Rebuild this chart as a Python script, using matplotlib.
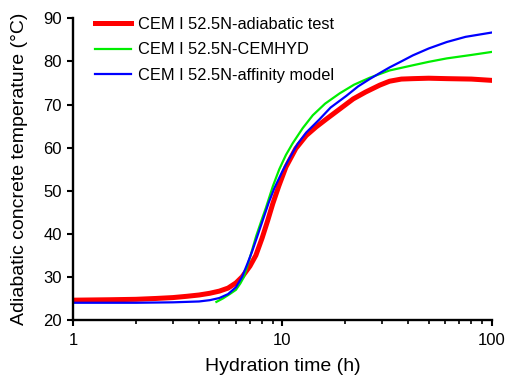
import matplotlib.pyplot as plt
import numpy as np

plt.rcParams['font.family'] = ['Liberation Sans', 'DejaVu Sans']

# hydration time (h) and temperature (C)
t_test = [1, 1.5, 2, 2.5, 3, 3.5, 4, 4.5, 5, 5.5, 6, 6.42, 7.0, 7.47, 8.0, 8.5, 9.0, 9.6, 10.4,
          11.6, 13, 14.5, 16.2, 18.5, 21.8, 25, 29.2, 32.5, 37, 42, 50, 61, 80, 100]
T_test = [24.6, 24.7, 24.8, 25.0, 25.2, 25.5, 25.8, 26.2, 26.7, 27.4, 28.6, 30.0, 32.5, 35.0, 39.0,
          43.0, 47.0, 51.0, 55.5, 59.8, 62.8, 64.8, 66.6, 68.7, 71.3, 72.9, 74.5, 75.4, 75.9, 76.0,
          76.1, 76.0, 75.9, 75.6]

t_cemhyd = [4.84, 5.2, 5.6, 6.0, 6.3, 6.55, 7.0, 7.5, 8.0, 8.34, 9.0, 9.67, 10.4, 11.2, 12.5, 13.97,
            16, 18.8, 22, 26.1, 32.5, 42, 50, 61, 80, 100]
T_cemhyd = [24.2, 25.0, 26.0, 27.0, 28.5, 30.0, 34.5, 39.5, 43.5, 46.0, 51.0, 55.0, 58.3, 61.0, 64.5,
            67.5, 70.2, 72.6, 74.6, 76.2, 77.9, 79.1, 79.9, 80.7, 81.5, 82.2]

t_affinity = [1, 2, 3, 4, 4.5, 5, 5.5, 6, 6.42, 6.8, 7.18, 7.6, 8.17, 8.6, 9.14, 10, 10.66, 11.8,
              13, 15, 17, 20.2, 23, 26.1, 29.2, 32.5, 37, 42, 50, 61, 75, 100]
T_affinity = [24.0, 24.0, 24.1, 24.3, 24.6, 25.1, 26.0, 27.6, 30.0, 33.0, 36.0, 39.5, 44.0, 47.2,
              50.5, 54.5, 57.0, 60.8, 63.5, 66.5, 69.3, 72.0, 74.2, 75.9, 77.3, 78.6, 80.0, 81.4,
              83.0, 84.5, 85.7, 86.7]

fig = plt.figure(figsize=(5.06, 3.83), dpi=100)
ax = fig.add_axes([0.1443, 0.1645, 0.8275, 0.7877])

ax.plot(t_test, T_test, color='#ff0000', lw=3.6, label='CEM I 52.5N-adiabatic test')
ax.plot(t_cemhyd, T_cemhyd, color='#00ee00', lw=1.6, label='CEM I 52.5N-CEMHYD')
ax.plot(t_affinity, T_affinity, color='#0000ff', lw=1.6, label='CEM I 52.5N-affinity model')

ax.set_xscale('log')
ax.set_xlim(1, 100)
ax.set_ylim(20, 90)
ax.set_xticks([1, 10, 100])
ax.set_xticklabels(['1', '10', '100'])
ax.set_yticks(np.arange(20, 91, 10))

ax.spines['top'].set_visible(False)
ax.spines['right'].set_visible(False)
ax.spines['left'].set_linewidth(1.7)
ax.spines['bottom'].set_linewidth(1.7)
ax.tick_params(which='major', direction='out', length=4.5, width=1.5, labelsize=12)
ax.tick_params(axis='x', which='major', pad=5)
ax.tick_params(which='minor', direction='out', length=2.8, width=1.2)
ax.tick_params(axis='y', which='minor', left=False)

ax.set_xlabel('Hydration time (h)', fontsize=14)
ax.set_ylabel('Adiabatic concrete temperature (\u00b0C)', fontsize=14)
ax.xaxis.set_label_coords(0.5, -0.125)
ax.yaxis.set_label_coords(-0.108, 0.5)

ax.legend(loc='upper left', frameon=False, fontsize=11.8, handlelength=2.2, handletextpad=0.4,
          labelspacing=0.62, borderpad=0, borderaxespad=0,
          bbox_to_anchor=(95 / 506, 0.955), bbox_transform=fig.transFigure)

fig.savefig('out.png', dpi=100)
